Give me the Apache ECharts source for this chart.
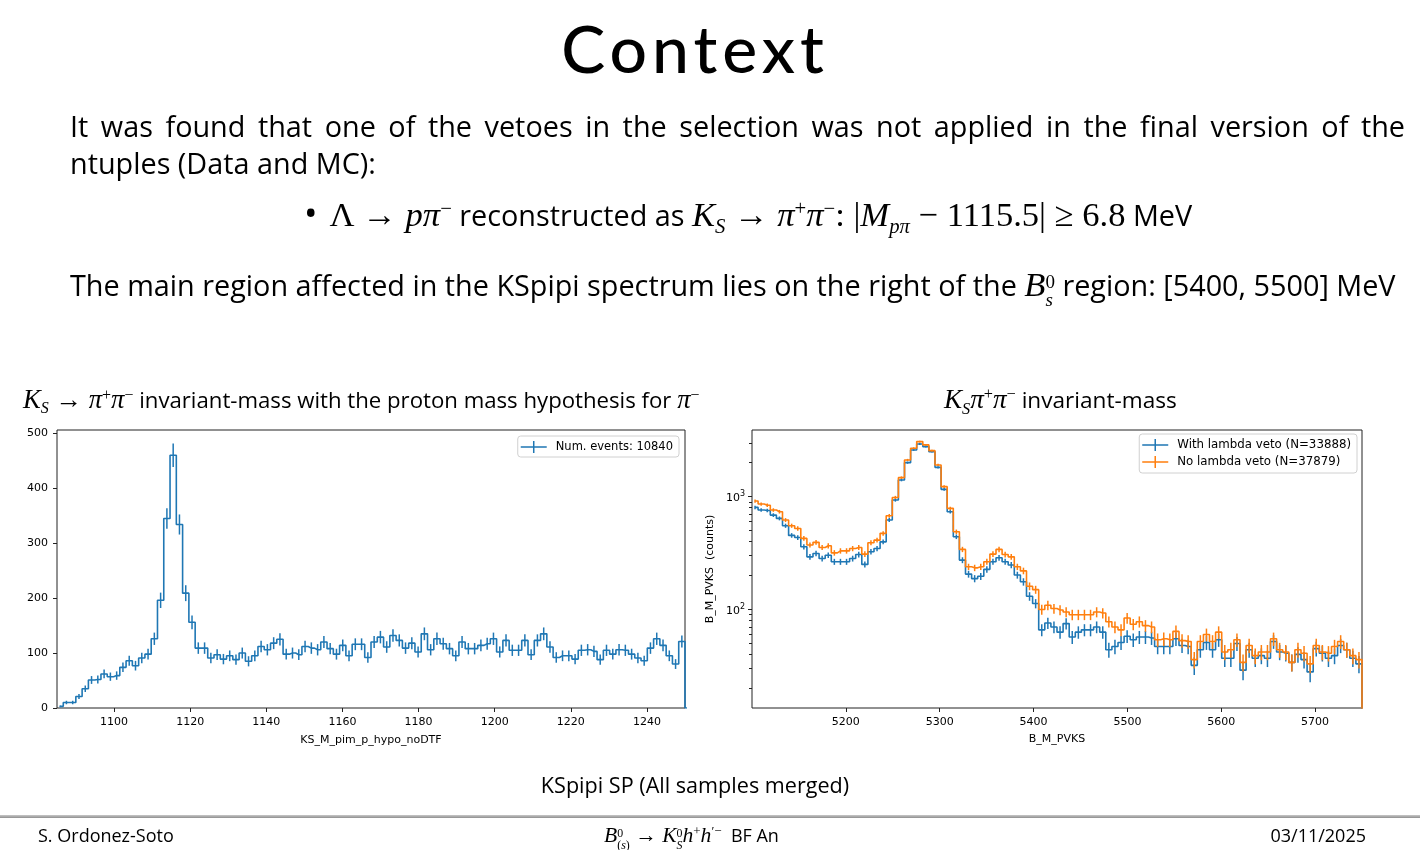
<!DOCTYPE html>
<html><head><meta charset="utf-8">
<script src="https://cdn.jsdelivr.net/npm/echarts@6/dist/echarts.min.js"></script>
<style>
html,body{margin:0;padding:0;background:#fff;}
body{width:1420px;height:850px;position:relative;overflow:hidden;font-family:'Open Sans',sans-serif;color:#000;}
#chart{position:absolute;left:0;top:0;width:1420px;height:850px;}
.t{position:absolute;white-space:nowrap;z-index:2;}
.m{font-family:'Liberation Serif','DejaVu Serif',serif;font-style:italic;}
.u{font-family:'Liberation Serif','DejaVu Serif',serif;font-style:normal;}
.big{font-size:1.2em;}
sup,sub{font-size:0.72em;line-height:0;}
.ss{display:inline-block;font-size:0.66em;line-height:0.95;vertical-align:-0.55em;text-align:left;}
.ss > span{display:block;}
.rule{position:absolute;left:0;width:1420px;top:815px;height:3px;background:linear-gradient(#c8c8c8,#8f8f8f);}
</style></head>
<body>
<div id="chart"></div>

<div class="t" style="left:0;width:1390px;text-align:center;top:8px;font-family:Lato,sans-serif;font-size:66px;font-weight:500;line-height:80px;letter-spacing:5px;">Context</div>

<div class="t" style="left:70px;top:107px;width:1335px;font-size:28.8px;line-height:37px;text-align:justify;text-align-last:justify;white-space:normal;">It was found that one of the vetoes in the selection was not applied in the final version of the</div>
<div class="t" style="left:70px;top:144px;font-size:28.8px;line-height:37px;">ntuples (Data and MC):</div>

<div class="t" style="left:304px;top:194px;font-size:28.8px;line-height:37px;"><span style="font-size:1.25em;margin-right:12px;">&#8226;</span><span class="u big">Λ → </span><span class="m big">pπ</span><sup class="u">−</sup> reconstructed as <span class="m big">K</span><sub class="m">S</sub><span class="u big"> → </span><span class="m big">π</span><sup class="u">+</sup><span class="m big">π</span><sup class="u">−</sup><span class="u big">: |</span><span class="m big">M</span><sub class="m">pπ</sub><span class="u big"> − 1115.5| ≥ 6.8</span> MeV</div>

<div class="t" style="left:70px;top:266px;font-size:28.8px;line-height:37px;">The main region affected in the KSpipi spectrum lies on the right of the <span class="m big">B</span><span class="ss u"><span>0</span><span class="m">s</span></span> region: [5400, 5500] MeV</div>

<div class="t" style="left:23px;top:386px;font-size:22.2px;line-height:26px;"><span class="m big">K</span><sub class="m">S</sub><span class="u big"> → </span><span class="m big">π</span><sup class="u">+</sup><span class="m big">π</span><sup class="u">−</sup> invariant-mass with the proton mass hypothesis for <span class="m big">π</span><sup class="u">−</sup></div>

<div class="t" style="left:944px;top:386px;font-size:22.6px;line-height:26px;"><span class="m big">K</span><sub class="m">S</sub><span class="m big">π</span><sup class="u">+</sup><span class="m big">π</span><sup class="u">−</sup> invariant-mass</div>

<div class="t" style="left:0;width:1390px;text-align:center;top:772px;font-size:21.6px;line-height:26px;">KSpipi SP (All samples merged)</div>

<div class="rule"></div>
<div class="t" style="left:38px;top:823px;font-size:18px;line-height:24px;">S. Ordonez-Soto</div>
<div class="t" style="left:604px;top:823px;font-size:18px;line-height:24px;"><span class="m big">B</span><span class="ss u"><span>0</span><span>(<span class="m">s</span>)</span></span><span class="u big"> → </span><span class="m big">K</span><span class="ss u"><span>0</span><span class="m">S</span></span><span class="m big">h</span><sup class="u">+</sup><span class="m big">h</span><sup class="u">′−</sup>&nbsp;&nbsp;BF An</div>
<div class="t" style="right:54px;top:823px;font-size:18px;line-height:24px;">03/11/2025</div>

<script>
// ---------------- data ----------------
// Left: KS_M_pim_p_hypo_noDTF histogram, 100 bins over [1085, 1250]
const leftRange = [1085, 1250];
const leftCounts = [
  3,10,10,21,35,51,52,62,57,59,74,86,77,91,98,126,
  196,345,460,334,209,156,
  109,109,91,97,89,95,88,100,85,95,112,106,118,125,98,100,97,112,109,106,120,108,98,114,95,116,116,92,
  120,129,111,132,123,109,118,102,135,106,126,117,108,95,120,108,108,114,117,126,
  102,123,105,105,123,97,123,135,111,92,95,95,89,105,106,103,88,105,98,106,
  105,98,91,86,109,126,114,95,80,121
];
const leftOverflow = 0;
const leftXTicks = [1100,1120,1140,1160,1180,1200,1220,1240];
const leftYTicks = [0,100,200,300,400,500];
const leftLegend = 'Num. events: 10840';

// Right: B_M_PVKS histogram, 100 bins over [5100, 5750]
const rightRange = [5100, 5750];
const withVeto = [
  804,762,755,687,642,553,454,435,360,293,314,283,303,265,265,265,283,307,251,325,347,398,621,934,1406,2003,
  2595,2930,2780,2508,1820,1162,736,442,274,206,188,197,227,265,288,265,248,202,176,131,113,66,76,70,63,
  75,57,63,66,66,70,63,44,47,51,58,54,57,57,56,47,47,47,55,48,47,32,44,51,
  44,54,37,37,50,29,44,37,39,37,52,42,41,34,40,36,28,45,41,37,39,48,44,37,33
];
const noVeto = [
  915,861,840,762,736,621,553,523,427,373,394,355,367,318,331,331,347,355,310,391,412,473,678,985,1475,2117,
  2687,3077,2876,2560,1911,1227,788,489,341,239,234,239,265,310,341,307,293,239,220,161,150,100,109,102,99,
  95,90,90,90,90,95,93,78,70,66,84,74,78,72,70,54,55,54,64,53,52,36,52,60,
  52,63,42,44,54,34,48,39,42,42,55,44,42,34,44,41,33,48,42,41,47,52,44,39,36
];
const rightOverflow = 1; // empty overflow bin, drawn below the log-axis floor
const rightXTicks = [5200,5300,5400,5500,5600,5700];
const rightYMajor = [100, 1000];
const rightYMinor = [20,30,40,50,60,70,80,90,200,300,400,500,600,700,800,900,2000,3000];
const rightYRange = [13.4, 3900];
const rightLegend = ['With lambda veto (N=33888)', 'No lambda veto (N=37879)'];

// ---------------- build ----------------
function centers(range, n) {
  const w = (range[1] - range[0]) / n;
  const c = [];
  for (let i = 0; i <= n; i++) c.push(range[0] + w * (i + 0.5));
  return c;
}
function stepData(range, counts, overflow) {
  const c = centers(range, counts.length);
  const d = counts.map((v, i) => [c[i], v]);
  d.push([c[counts.length], overflow]);
  return d;
}
function errData(range, counts) {
  const c = centers(range, counts.length);
  return counts.map((v, i) => [c[i], v, Math.sqrt(v)]);
}
const BLUE = '#1f77b4', ORANGE = '#ff7f0e';
const crossIcon = 'path://M0,5.25L26,5.25L26,6.75L0,6.75Z M12.25,0L13.75,0L13.75,12L12.25,12Z';

function errSeries(name, xi, yi, data, color, z) {
  return {
    type: 'custom', name: name, xAxisIndex: xi, yAxisIndex: yi, z: z, silent: true,
    data: data,
    renderItem: function (params, api) {
      const x = api.value(0), v = api.value(1), e = api.value(2);
      const lo = Math.max(v - e, 1e-3);
      const p1 = api.coord([x, lo]);
      const p2 = api.coord([x, v + e]);
      return { type: 'line', shape: { x1: p1[0], y1: p1[1], x2: p2[0], y2: p2[1] },
               style: { stroke: color, lineWidth: 1.5 } };
    },
    clip: true
  };
}
const axisFont = { fontFamily: 'DejaVu Sans', fontSize: 11, color: '#000' };
const plain = v => String(v);

const option = {
  animation: false,
  backgroundColor: 'transparent',
  grid: [
    { left: 57, top: 430, width: 628, height: 278, show: true, borderColor: '#222', borderWidth: 1, backgroundColor: 'transparent' },
    { left: 752, top: 430, width: 610, height: 278, show: true, borderColor: '#222', borderWidth: 1, backgroundColor: 'transparent' }
  ],
  xAxis: [
    { type: 'value', gridIndex: 0, min: leftRange[0], max: leftRange[1],
      axisLine: { show: false },
      axisTick: { show: true, length: 4, lineStyle: { color: '#222' }, customValues: leftXTicks },
      axisLabel: Object.assign({ margin: 9, customValues: leftXTicks, formatter: plain }, axisFont),
      splitLine: { show: false },
      name: 'KS_M_pim_p_hypo_noDTF', nameLocation: 'middle', nameGap: 27, nameTextStyle: axisFont },
    { type: 'value', gridIndex: 1, min: rightRange[0], max: rightRange[1],
      axisLine: { show: false },
      axisTick: { show: true, length: 4, lineStyle: { color: '#222' }, customValues: rightXTicks },
      axisLabel: Object.assign({ margin: 9, customValues: rightXTicks, formatter: plain }, axisFont),
      splitLine: { show: false },
      name: 'B_M_PVKS', nameLocation: 'middle', nameGap: 26, nameTextStyle: axisFont }
  ],
  yAxis: [
    { type: 'value', gridIndex: 0, min: 0, max: 506,
      axisLine: { show: false },
      axisTick: { show: true, length: 4, lineStyle: { color: '#222' }, customValues: leftYTicks },
      axisLabel: Object.assign({ margin: 9, customValues: leftYTicks, formatter: plain }, axisFont),
      splitLine: { show: false } },
    { type: 'log', logBase: 10, gridIndex: 1, position: 'left', min: rightYRange[0], max: rightYRange[1],
      axisLine: { show: false },
      axisTick: { show: true, length: 4, lineStyle: { color: '#222' }, customValues: rightYMajor },
      axisLabel: Object.assign({ margin: 7, customValues: rightYMajor,
        formatter: function (v) { return '{b|10}{s|' + Math.round(Math.log10(v)) + '}'; },
        rich: { b: { fontFamily: 'DejaVu Sans', fontSize: 11, color: '#000', verticalAlign: 'bottom', lineHeight: 14 },
                s: { fontFamily: 'DejaVu Sans', fontSize: 8, color: '#000', verticalAlign: 'top', lineHeight: 14, padding: [0, 0, 6, 0] } } }, axisFont),
      splitLine: { show: false },
      name: 'B_M_PVKS  (counts)', nameLocation: 'middle', nameGap: 36, nameTextStyle: axisFont },
    { type: 'log', logBase: 10, gridIndex: 1, position: 'left', min: rightYRange[0], max: rightYRange[1],
      axisLine: { show: false },
      axisTick: { show: true, length: 3, lineStyle: { color: '#222', width: 1 }, customValues: rightYMinor },
      axisLabel: { show: false }, splitLine: { show: false } }
  ],
  legend: [
    { data: [{ name: leftLegend, icon: crossIcon }], right: 741, top: 436, orient: 'vertical',
      itemWidth: 26, itemHeight: 12, padding: [5, 6, 4, 3],
      backgroundColor: '#fff', borderColor: '#d0d0d0', borderWidth: 1, borderRadius: 3,
      textStyle: { fontFamily: 'DejaVu Sans', fontSize: 11.5, color: '#000', padding: [0, 0, 0, 4] } },
    { data: rightLegend.map(n => ({ name: n, icon: crossIcon })), right: 63, top: 434, orient: 'vertical',
      itemWidth: 26, itemHeight: 12, itemGap: 5, padding: [5, 6, 5, 3],
      backgroundColor: '#fff', borderColor: '#d0d0d0', borderWidth: 1, borderRadius: 3,
      textStyle: { fontFamily: 'DejaVu Sans', fontSize: 11.8, color: '#000', padding: [0, 0, 0, 4] } }
  ],
  series: [
    { type: 'line', name: leftLegend, xAxisIndex: 0, yAxisIndex: 0, step: 'middle', showSymbol: false, symbol: 'none',
      data: stepData(leftRange, leftCounts, leftOverflow), color: BLUE,
      lineStyle: { color: BLUE, width: 1.6 }, clip: true, z: 3 },
    errSeries('leftErr', 0, 0, errData(leftRange, leftCounts), BLUE, 3),
    { type: 'line', name: rightLegend[0], xAxisIndex: 1, yAxisIndex: 1, step: 'middle', showSymbol: false, symbol: 'none',
      data: stepData(rightRange, withVeto, rightOverflow), color: BLUE,
      lineStyle: { color: BLUE, width: 1.6 }, clip: true, z: 3 },
    errSeries('withErr', 1, 1, errData(rightRange, withVeto), BLUE, 3),
    { type: 'line', name: rightLegend[1], xAxisIndex: 1, yAxisIndex: 1, step: 'middle', showSymbol: false, symbol: 'none',
      data: stepData(rightRange, noVeto, rightOverflow), color: ORANGE,
      lineStyle: { color: ORANGE, width: 1.6 }, clip: true, z: 4 },
    errSeries('noErr', 1, 1, errData(rightRange, noVeto), ORANGE, 4)
  ]
};
const chart = echarts.init(document.getElementById('chart'), null, { renderer: 'canvas' });
chart.setOption(option);
</script>
</body></html>
